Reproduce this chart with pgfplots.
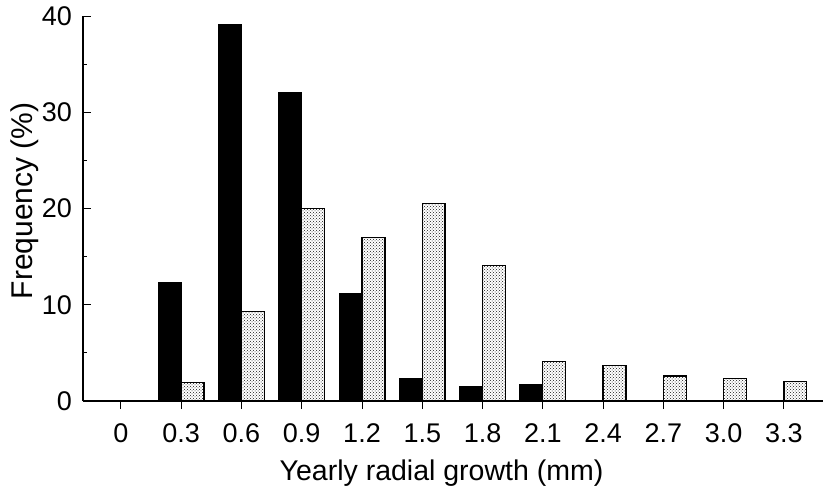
\documentclass[border=0pt]{standalone}
\usepackage{pgfplots}
\pgfplotsset{compat=1.18}
\usetikzlibrary{patterns}
\usepackage{fontspec}
\setmainfont{Liberation Sans}
\begin{document}
\begin{tikzpicture}
\begin{axis}[
  at={(0pt,0pt)}, anchor=south west,
  scale only axis, width=740pt, height=385pt,
  xmin=-0.63, xmax=11.65, ymin=0, ymax=40,
  axis x line=bottom, axis y line=left,
  axis line style={-, line width=1.2pt},
  xtick={0,1,2,3,4,5,6,7,8,9,10,11},
  xticklabels={0,0.3,0.6,0.9,1.2,1.5,1.8,2.1,2.4,2.7,3.0,3.3},
  ytick={0,10,20,30,40}, minor ytick={5,15,25,35},
  tick align=inside, major tick length=8pt, minor tick length=4pt,
  xtick style={yshift=-8pt},
  tick style={black, line width=1pt},
  ticklabel style={font=\fontsize{27}{30}\selectfont},
  xticklabel style={anchor=base, yshift=-41pt},
  yticklabel style={anchor=east, inner sep=0pt, xshift=-11pt},
  /pgf/number format/assume math mode=true,
  xlabel={Yearly radial growth (mm)}, ylabel={Frequency (\%)},
  xlabel style={font=\fontsize{28.5}{32}\selectfont, at={(axis description cs:0.4845,0)}, anchor=base, yshift=-79pt},
  ylabel style={font=\fontsize{30}{34}\selectfont, at={(axis description cs:-0.0676,0.52)}, anchor=base},
]
\addplot[ybar, bar width=0.38, bar shift=-0.19, fill=black, draw=black, line width=0.8pt]
  coordinates {(1,12.3) (2,39.1) (3,32.1) (4,11.2) (5,2.3) (6,1.5) (7,1.7)};
\addplot[ybar, bar width=0.38, bar shift=0.19, fill=white, pattern=crosshatch dots, pattern color=black!90, draw=black, line width=1.4pt]
  coordinates {(1,1.9) (2,9.3) (3,20.0) (4,17.0) (5,20.5) (6,14.1) (7,4.1) (8,3.7) (9,2.6) (10,2.35) (11,2.0)};
\end{axis}
\pgfresetboundingbox
\path[use as bounding box] (-83pt,-92pt) rectangle (740pt,401pt);
\end{tikzpicture}
\end{document}
